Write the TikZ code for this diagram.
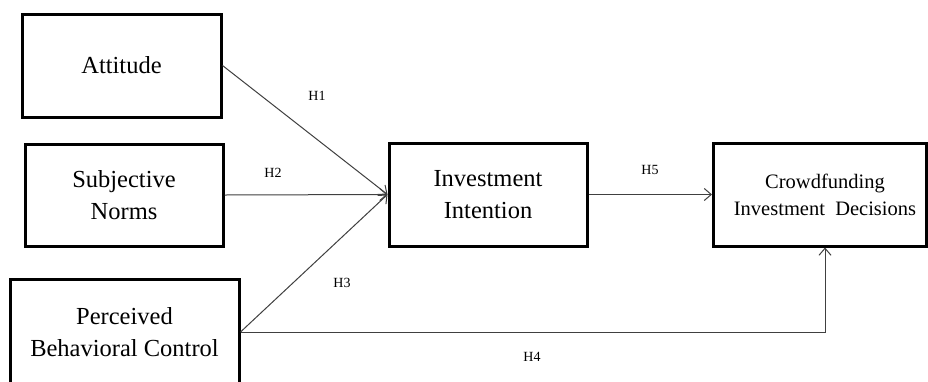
\documentclass[tikz,border=0pt]{standalone}
\usepackage{fontspec}
\setmainfont{Liberation Serif}
\usetikzlibrary{arrows.meta}
\begin{document}
\begin{tikzpicture}[x=1pt,y=-1pt,
  box/.style={draw=black, line width=3pt, align=center, inner sep=0pt, font=\fontsize{24.5}{32}\selectfont},
  smallbox/.style={box, font=\fontsize{20.5}{27}\selectfont},
  conn/.style={draw=black!75, line width=1pt, -{Straight Barb[length=7pt,width=12pt]}},
  hlabel/.style={inner sep=0pt, font=\fontsize{14}{16}\selectfont}]
\clip (0,0) rectangle (928,381);
\fill[white] (0,0) rectangle (928,381);
\node[box, minimum width=199pt, minimum height=103pt] (att) at (121.5,65.5) {Attitude};
\node[box, minimum width=198pt, minimum height=102pt] (sn) at (124,195) {Subjective\\Norms};
\node[box, minimum width=229pt, minimum height=105pt] (pbc) at (124.5,332) {Perceived\\Behavioral Control};
\node[box, minimum width=198pt, minimum height=103pt] (ii) at (488,194.5) {Investment\\Intention};
\node[smallbox, minimum width=213pt, minimum height=103pt] (cid) at (820,194.5) {\hspace*{10pt}Crowdfunding\\\hspace*{10pt}Investment\ \ Decisions};
\node[hlabel] (h1) at (317,96) {H1};
\node[hlabel] (h2) at (273,173) {H2};
\node[hlabel] (h3) at (342,283) {H3};
\node[hlabel] (h4) at (532,357) {H4};
\node[hlabel] (h5) at (650,170) {H5};
\coordinate (c4) at (825,332);
\draw[conn] (att.east) -- (ii.west);
\draw[conn] (sn.east) -- (ii.west);
\draw[conn] (pbc.east) -- (ii.west);
\draw[conn] (ii.east) -- (cid.west);
\draw[conn] (pbc.east |- c4) -- (c4) -- (c4 |- cid.south);
\end{tikzpicture}
\end{document}
